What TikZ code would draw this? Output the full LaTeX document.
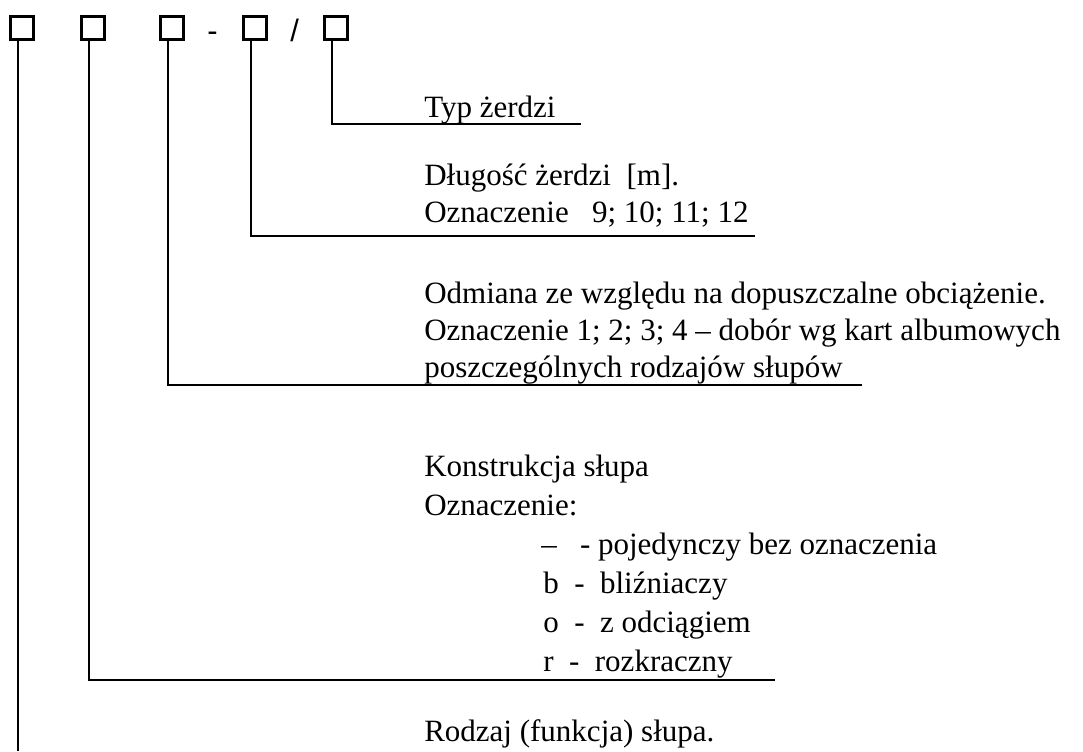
\documentclass[tikz,border=0pt]{standalone}
\usepackage{fontspec}
\setmainfont{Liberation Serif}
\newfontfamily\arialfont{Liberation Sans}
\begin{document}
\tikzset{
  sq/.style={draw, line width=2pt, minimum size=17.6pt, inner sep=0pt},
  conn/.style={line width=1.3pt},
  lbl/.style={anchor=base west, inner sep=0pt, font=\fontsize{23.25}{27.75}\selectfont},
  sym/.style={anchor=base west, inner sep=0pt, font=\arialfont\fontsize{23.25}{27.75}\selectfont}
}
\begin{tikzpicture}[x=0.75pt,y=-0.75pt]
\useasboundingbox (0,0) rectangle (1083,751);
% code boxes
\node[sq] (b1) at (22,28) {};
\node[sq] (b2) at (93,28) {};
\node[sq] (b3) at (172,28) {};
\node[sq] (b4) at (255,28) {};
\node[sq] (b5) at (336,28) {};
\node[sym] (dash) at (207,41) {-};
\node[sym] (slash) at (290,41) {/};
% ends of the leader lines
\coordinate (e5) at (581,124);
\coordinate (e4) at (755,236);
\coordinate (e3) at (862,385);
\coordinate (e2) at (775,680);
\coordinate (e1) at (0,751);
% leaders
\draw[conn] ([xshift=-3pt]b5.south) |- (e5);
\draw[conn] ([xshift=-3pt]b4.south) |- (e4);
\draw[conn] ([xshift=-3pt]b3.south) |- (e3);
\draw[conn] ([xshift=-3pt]b2.south) |- (e2);
\draw[conn] ([xshift=-3pt]b1.south) -- ([xshift=-3pt]b1.south |- e1);
% texts
\node[lbl] (t5) at (424,117) {Typ żerdzi};
\node[lbl] (t4a) at (424,185) {Długość żerdzi\ \ [m].};
\node[lbl] (t4b) at (424,222) {Oznaczenie\ \ \ 9; 10; 11; 12};
\node[lbl] (t3a) at (424,303) {Odmiana ze względu na dopuszczalne obciążenie.};
\node[lbl] (t3b) at (424,340) {Oznaczenie 1; 2; 3; 4 – dobór wg kart albumowych};
\node[lbl] (t3c) at (424,377) {poszczególnych rodzajów słupów};
\node[lbl] (t2a) at (424,476) {Konstrukcja słupa};
\node[lbl] (t2b) at (424,515) {Oznaczenie:};
\node[lbl] (t2c) at (541,554) {–\ \ \ - pojedynczy bez oznaczenia};
\node[lbl] (t2d) at (543,593) {b\ \ -\ \ bliźniaczy};
\node[lbl] (t2e) at (543,632) {o\ \ -\ \ z odciągiem};
\node[lbl] (t2f) at (543,671) {r\ \ -\ \ rozkraczny};
\node[lbl] (t1) at (424,741) {Rodzaj (funkcja) słupa.};
\end{tikzpicture}
\end{document}
